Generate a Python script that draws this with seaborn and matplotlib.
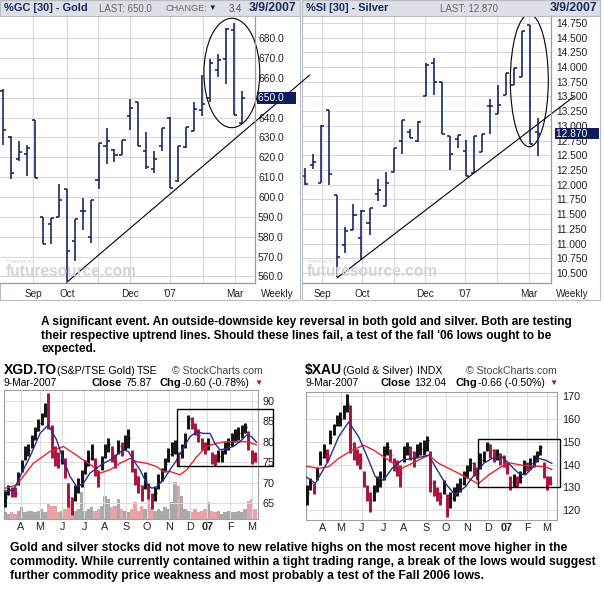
import numpy as np
import matplotlib
matplotlib.use("Agg")
import matplotlib.pyplot as plt
import seaborn as sns
from matplotlib.patches import Ellipse, Rectangle
from matplotlib.ticker import FuncFormatter
from matplotlib.transforms import blended_transform_factory

sns.set_style("white")
plt.rcParams['font.family'] = ['Liberation Sans', 'DejaVu Sans']

W, H = 604, 599

# ---------------- weekly futures (top) ----------------
gold_open = [653.5, 630.0, 619.3, 621.6, 638.7, 590.0, 586.4, 590.0, 604.0, 578.0, 593.0, 580.0, 608.7, 625.5, 623.8, 621.3,
             641.0, 648.0, 623.3, 614.2, 625.5, 640.0, 607.9, 625.0, 633.4, 643.9, 649.8, 664.0, 669.6, 684.2, 637.2]
gold_high = [654.5, 631.0, 628.0, 626.0, 638.7, 590.2, 589.4, 606.5, 604.2, 589.0, 599.5, 598.6, 627.0, 635.0, 624.0, 628.8,
             649.3, 648.0, 632.7, 623.0, 635.0, 640.2, 625.5, 635.5, 647.8, 661.5, 669.6, 672.0, 685.0, 687.6, 653.2]
gold_low = [626.3, 609.2, 618.3, 610.4, 609.5, 576.3, 576.3, 590.0, 557.5, 568.0, 583.5, 576.8, 604.0, 616.6, 617.6, 621.3,
            634.0, 625.5, 614.2, 612.0, 623.0, 604.8, 607.5, 624.6, 633.4, 640.6, 647.8, 660.7, 656.8, 641.4, 636.7]
gold_close = [633.9, 612.0, 622.6, 624.6, 609.5, 576.5, 589.4, 598.6, 573.0, 589.0, 593.0, 598.6, 627.0, 628.3, 621.3, 628.8,
              645.0, 625.5, 614.9, 619.3, 635.0, 604.8, 625.5, 635.5, 644.4, 646.8, 667.4, 669.1, 684.7, 641.4, 650.0]
gold_months = [3.8, 8.05, 11.9, 15.9, 20.9, 25.1, 29.1]
gold_trend_x = [8.0, 38.46]
gold_trend_y = [557.0, 661.5]

silver_open = [12.14, 12.34, 12.03, 13.27, 11.83, 10.98, 11.23, 11.09, 11.35, 11.84, 11.63, 12.22, 12.74, 12.90, 12.74,
               13.51, 14.06, 13.75, 12.83, 12.78, 12.57, 12.20, 12.56, 13.34, 13.21, 13.53, 13.70, 13.83, 14.71, 12.89]
silver_high = [12.29, 12.53, 13.01, 13.27, 11.83, 11.28, 11.67, 11.57, 11.61, 12.10, 12.21, 12.62, 13.10, 12.95, 13.08,
               14.06, 14.16, 13.75, 12.83, 12.85, 12.76, 12.83, 12.87, 13.46, 13.69, 13.89, 13.99, 14.62, 14.72, 13.14]
silver_low = [12.00, 12.27, 12.03, 12.00, 10.44, 10.84, 11.23, 10.72, 11.15, 11.72, 11.63, 12.21, 12.52, 12.79, 12.73,
              13.50, 13.52, 12.86, 12.25, 12.62, 12.14, 12.20, 12.56, 12.87, 13.21, 13.53, 13.70, 13.83, 12.69, 12.48]
silver_close = [12.02, 12.39, 13.00, 12.18, 10.78, 11.22, 11.48, 11.56, 11.61, 11.91, 12.03, 12.62, 13.10, 12.80, 13.06,
                14.04, 13.75, 12.86, 12.52, 12.84, 12.14, 12.83, 12.87, 13.34, 13.35, 13.89, 13.98, 14.61, 12.69, 12.87]
silver_months = [2.08, 7.06, 11.0, 14.9, 19.9, 23.9, 27.8]
silver_trend_x = [3.95, 33.42]
silver_trend_y = [10.415, 13.495]
week_labels = ['Sep', 'Oct', '', 'Dec', "'07", '', 'Mar']

# ---------------- daily stocks (bottom) ----------------
xgd_close = [66.5, 68.5, 68.0, 67.5, 71.5, 74.5, 77.5, 78.0, 80.5, 82.5,
             84.5, 86.0, 88.0, 85.0, 79.0, 76.5, 75.5, 76.5, 73.5, 66.5,
             64.5, 68.0, 69.5, 71.0, 74.0, 76.0, 77.5, 73.5, 71.0, 75.0,
             78.0, 79.5, 77.0, 75.0, 79.0, 78.5, 80.0, 81.0, 75.0, 71.5,
             69.5, 67.5, 70.5, 68.0, 65.5, 67.5, 70.5, 72.0, 74.5, 77.0,
             78.5, 79.0, 76.0, 78.0, 80.5, 85.5, 84.5, 83.0, 81.5, 79.5,
             78.5, 79.5, 76.0, 75.5, 76.5, 76.5, 78.5, 79.5, 80.5, 81.5,
             82.0, 82.5, 83.5, 80.0, 76.0, 75.9]
xgd_low = [64.0, 67.0, 66.5, 66.5, 69.5, 72.5, 75.5, 76.5, 78.5, 80.5,
           82.5, 84.0, 86.0, 83.0, 76.0, 74.0, 73.5, 74.5, 71.0, 64.0,
           62.0, 65.5, 67.5, 69.0, 72.0, 74.0, 75.5, 71.5, 69.0, 73.0,
           76.0, 77.5, 75.0, 73.5, 77.0, 76.5, 78.0, 78.5, 72.5, 69.5,
           67.5, 65.5, 68.5, 66.0, 63.5, 65.5, 68.5, 70.5, 72.5, 75.0,
           76.5, 77.0, 74.0, 76.0, 78.5, 83.0, 83.0, 81.5, 80.0, 78.0,
           77.0, 78.0, 74.5, 74.0, 75.0, 75.0, 77.0, 78.0, 79.0, 80.0,
           80.5, 81.0, 82.0, 78.0, 74.5, 75.0]
xgd_high = [68.0, 69.5, 69.0, 69.0, 72.5, 75.5, 79.0, 79.5, 81.5, 83.5,
            85.5, 87.0, 89.5, 91.8, 84.0, 79.0, 77.5, 78.0, 76.0, 70.0,
            66.5, 69.5, 71.0, 73.0, 75.5, 78.0, 79.5, 76.0, 73.0, 76.5,
            79.5, 81.0, 79.0, 77.0, 80.5, 80.0, 81.5, 83.0, 78.0, 73.5,
            71.5, 69.5, 72.5, 70.0, 67.5, 69.0, 72.0, 73.5, 76.0, 78.5,
            80.0, 80.5, 77.5, 79.5, 82.0, 86.5, 86.0, 84.5, 83.0, 81.0,
            80.0, 81.0, 77.5, 77.0, 78.0, 78.0, 80.0, 81.0, 82.0, 83.0,
            83.5, 84.0, 84.5, 82.5, 78.0, 77.5]
xgd_volume = [2.0, 1.5, 2.0, 1.5, 2.5, 3.5, 2.0, 2.5, 2.5, 2.0,
              2.5, 3.0, 2.0, 4.5, 4.0, 4.0, 2.0, 2.5, 3.0, 3.5,
              5.5, 2.5, 3.0, 8.0, 2.5, 3.0, 3.5, 2.5, 3.0, 4.0,
              7.0, 6.0, 3.5, 4.0, 6.0, 3.0, 2.5, 2.0, 3.0, 5.0,
              2.5, 4.0, 3.0, 6.0, 3.5, 2.5, 3.0, 2.5, 3.5, 3.0,
              5.0, 11.0, 10.0, 7.0, 3.0, 2.5, 2.0, 3.0, 2.0, 2.5,
              3.0, 5.0, 2.5, 2.0, 2.5, 1.5, 2.0, 2.5, 2.0, 2.0,
              2.5, 2.0, 3.0, 5.5, 6.0, 3.0]
xgd_fast_x = [0, 2.5, 4.5, 7.5, 10.5, 13, 15.5, 17.5, 19.5, 21.5, 23.5, 25.5, 27.5, 29.5, 31.5, 33.5, 35.5, 37, 38.5,
              40.5, 42.5, 44, 45.5, 47.5, 49.5, 51.5, 53.5, 55.5, 57.5, 59.5, 61.5, 63, 64.5, 66.5, 68.5, 70.5, 72.5, 74, 75.5]
xgd_fast_y = [68.0, 68.0, 71.5, 76.3, 82.0, 84.1, 80.4, 75.5, 71.5, 69.0, 69.8, 72.3, 73.5, 74.7, 75.5, 76.7, 78.0, 77.6, 75.5,
              73.1, 69.8, 68.6, 69.0, 70.6, 73.1, 75.5, 78.4, 81.2, 82.4, 82.0, 82.0, 79.5, 78.0, 78.3, 78.8, 80.0, 81.6, 81.2, 79.8]
xgd_slow_x = [0, 3.5, 8.5, 13.5, 17.5, 20.5, 23.5, 26.5, 28.5, 31.5, 34.5, 37.5, 39.5, 42.5, 45.5, 47.5, 49.5, 52.5,
              54.5, 57.5, 60.5, 63.5, 66.5, 69.5, 72.5, 75.5]
xgd_slow_y = [68.6, 69.4, 74.7, 77.6, 78.8, 77.2, 75.5, 73.9, 72.3, 73.1, 74.7, 75.9, 75.1, 74.7, 73.9, 72.7, 72.7, 71.9,
              73.1, 76.3, 78.8, 79.6, 80.0, 80.0, 80.0, 79.2]
xgd_months = [4.8, 10.5, 17.2, 23.8, 29.8, 36.3, 42.6, 49.1, 55.5, 60.7, 67.5, 74.0]

xau_close = [127.3, 131.7, 129.5, 136.1, 143.4, 146.3, 144.1, 152.2, 155.8, 159.5,
             160.2, 163.1, 166.8, 149.2, 146.3, 143.4, 141.9, 133.2, 127.3, 124.4,
             127.3, 131.7, 133.2, 146.3, 147.8, 144.1, 140.5, 139.0, 136.1, 144.9,
             147.8, 145.6, 142.7, 146.3, 147.0, 147.8, 150.7, 131.7, 129.5, 127.3,
             125.8, 130.2, 123.7, 125.1, 127.3, 128.8, 131.7, 134.6, 137.5, 140.5,
             138.3, 136.1, 141.9, 143.4, 149.2, 146.3, 144.1, 144.9, 142.7, 141.9,
             139.0, 132.4, 133.2, 132.4, 134.6, 139.7, 139.0, 140.5, 141.9, 144.1,
             147.8, 138.3, 132.4, 132.0]
xau_low = [122, 129, 127, 133, 140, 143, 141, 149, 153, 157,
           157, 160, 163, 145, 142, 140, 138, 130, 124, 119,
           124, 128, 130, 133, 144, 141, 137, 135, 130, 141,
           144, 142, 139, 143, 144, 144, 146, 128, 126, 124,
           122, 127, 117, 121, 124, 126, 128, 131, 134, 137,
           135, 133, 138, 141, 146, 143, 141, 142, 140, 139,
           136, 129, 130, 130, 132, 136, 137, 138, 139, 141,
           144, 134, 129, 131]
xau_high = [131, 134, 132, 139, 146, 149, 147, 155, 158, 162,
            163, 166, 171, 166, 150, 147, 145, 137, 131, 128,
            131, 135, 137, 148, 150, 147, 143, 142, 140, 148,
            150, 148, 146, 149, 150, 151, 152.5, 146, 133, 130,
            128, 133, 127, 128, 130, 132, 134, 137, 140, 143,
            141, 139, 145, 146, 150, 149, 147, 147, 145, 144,
            141, 135, 136, 135, 137, 142, 141, 143, 144, 146,
            148.5, 141, 135, 135]
xau_fast_x = [-0.3, 2.5, 6.5, 9.5, 12.5, 15.5, 18.5, 20.5, 23, 25.5, 28.5, 31.5, 34.5, 36.5, 38.5, 41.5, 44.5, 47.5,
              50.5, 53, 55.5, 58.5, 60.5, 63.5, 65.5, 67.5, 69.5, 71.5, 73.5]
xau_fast_y = [134.6, 131.7, 141.9, 152.2, 158.7, 152.2, 141.9, 134.6, 133.2, 138.3, 141.9, 142.7, 143.4, 144.1, 139.0,
              131.7, 126.6, 130.2, 136.1, 140.5, 142.7, 143.4, 140.5, 136.1, 135.4, 138.3, 142.7, 141.9, 140.5]
xau_slow_x = [-0.3, 3.5, 6.5, 9.5, 13.5, 17, 20, 23, 26, 28.5, 31.5, 34.5, 36.5, 39.5, 42.5, 45.5, 48.5, 51.3, 54.5,
              57.5, 60.5, 64.5, 68.5, 71.5, 73.5]
xau_slow_y = [139.3, 138.3, 139.0, 142.7, 146.3, 148.5, 146.3, 143.4, 140.5, 138.3, 140.5, 142.7, 144.1, 140.5, 138.3,
              136.1, 133.9, 131.4, 135.4, 138.3, 140.8, 139.7, 139.3, 139.0, 137.8]
xau_months = [4.7, 10.2, 16.5, 23.0, 29.0, 35.7, 41.7, 48.0, 54.3, 60.0, 66.0, 72.0]
day_labels = ['A', 'M', 'J', 'J', 'A', 'S', 'O', 'N', 'D', '07', 'F', 'M']

NAVY = '#1b2762'
GRID = '#d8d8d8'

fig = plt.figure(figsize=(W / 100, H / 100), dpi=100)


def rect(x0, y0, x1, y1):
    return [x0 / W, 1 - y1 / H, (x1 - x0) / W, (y1 - y0) / H]


def ftext(x, y, s, **kw):
    kw.setdefault('va', 'center')
    fig.text(x / W, 1 - y / H, s, **kw)


def fbox(x0, y0, x1, y1, **kw):
    fig.patches.append(Rectangle((x0 / W, 1 - y1 / H), (x1 - x0) / W, (y1 - y0) / H,
                                 transform=fig.transFigure, **kw))


def weekly_chart(ax, o, h, l, c, months, ylim, xlim, yticks, fmt, pad, hide=None):
    idx = np.arange(len(c))
    ax.vlines(idx, l, h, color=NAVY, lw=1.2)
    ax.hlines(o, idx - 0.38, idx, color=NAVY, lw=1.2)
    ax.hlines(c, idx, idx + 0.38, color=NAVY, lw=1.2)
    ax.set_xlim(*xlim)
    ax.set_ylim(*ylim)
    ax.yaxis.tick_right()
    ax.set_yticks(yticks)
    ax.yaxis.set_major_formatter(FuncFormatter(
        lambda v, p: '' if hide is not None and abs(v - hide) < 1e-6 else fmt % v))
    ax.set_xticks(months)
    ax.set_xticklabels(week_labels)
    ax.tick_params(axis='y', length=0, pad=pad, labelsize=7.4, labelcolor='#222222')
    ax.tick_params(axis='x', length=0, pad=4.5, labelsize=7.2, labelcolor='#222222')
    ax.grid(True, color=GRID, lw=0.8)
    ax.set_axisbelow(True)
    for s in ['left', 'top']:
        ax.spines[s].set_visible(False)
    for s in ['right', 'bottom']:
        ax.spines[s].set_color('#9a9a9a')
        ax.spines[s].set_linewidth(0.9)


# ---------- gold ----------
ax_g = fig.add_axes(rect(0, 17, 255, 283))
weekly_chart(ax_g, gold_open, gold_high, gold_low, gold_close, gold_months,
             (556.7, 690.7), (-0.34, 31.6), np.arange(560, 681, 10), '%.1f', 2.2, hide=650.0)
ax_g.plot(gold_trend_x, gold_trend_y, color='black', lw=0.8, clip_on=False)
ax_g.add_patch(Ellipse((28.7, 662.5), 7.0, 55.1, fill=False, ec='black', lw=0.8, clip_on=False))
tr = blended_transform_factory(ax_g.transAxes, ax_g.transData)
ax_g.text(1 + 3 / 255, gold_close[-1], '650.0    ', transform=tr, ha='left', va='center', fontsize=7.4,
          color='white', bbox=dict(boxstyle='square,pad=0.12', fc='#0f1a5a', ec='none'))
ax_g.set_zorder(3)

# ---------- silver ----------
ax_s = fig.add_axes(rect(302, 17, 551, 283))
weekly_chart(ax_s, silver_open, silver_high, silver_low, silver_close, silver_months,
             (10.33, 14.85), (-0.41, 30.6), np.arange(10.5, 14.76, 0.25), '%.3f', 3.6)
ax_s.plot(silver_trend_x, silver_trend_y, color='black', lw=0.8, clip_on=False)
ax_s.add_patch(Ellipse((27.9, 13.77), 4.73, 2.25, fill=False, ec='black', lw=0.8, clip_on=False))
tr = blended_transform_factory(ax_s.transAxes, ax_s.transData)
ax_s.text(1 + 5 / 249, silver_close[-1], '12.870    ', transform=tr, ha='left', va='center', fontsize=7.4,
          color='white', bbox=dict(boxstyle='square,pad=0.05', fc='#0f1a5a', ec='none'))

# panel frames and title bars
for x0, x1 in [(0, 300), (302, 600)]:
    fbox(x0, 0, x1, 16, fc='#dde0e6', ec='#b8bcc4', lw=0.8)
    fbox(x0, 0, x1, 300, fill=False, ec='#b8bcc4', lw=0.8)

ftext(4, 8, '%GC [30] - Gold', fontsize=7.9, fontweight='bold', color=NAVY)
ftext(99, 8.5, 'LAST: 650.0', fontsize=7.0, color='#666666')
ftext(166, 8.5, 'CHANGE:', fontsize=6.6, color='#666666')
ftext(208.5, 8.5, '\u25bc', fontsize=5.6, color=NAVY)
ftext(229, 8.5, '3.4', fontsize=7.0, color='#555555')
ftext(296, 8, '3/9/2007', fontsize=8.8, fontweight='bold', color=NAVY, ha='right')
ftext(306, 8, '%SI [30] - Silver', fontsize=7.9, fontweight='bold', color=NAVY)
ftext(440, 8.5, 'LAST: 12.870', fontsize=7.0, color='#666666')
ftext(597, 8, '3/9/2007', fontsize=8.8, fontweight='bold', color=NAVY, ha='right')
ftext(277, 294, 'Weekly', fontsize=7.2, color='#222222', ha='center')
ftext(572, 294, 'Weekly', fontsize=7.2, color='#222222', ha='center')
for x0 in [6, 307]:
    ftext(x0 + 1, 262, 'Powered by', fontsize=3.5, color='#d0d0d0')
    ftext(x0, 272, 'futuresource.com', fontsize=11.2, fontweight='bold', color='#d4d4d4')

# ---------- middle commentary ----------
para1 = ["A significant event. An outside-downside key reversal in both gold and silver. Both are testing",
         "their respective uptrend lines. Should these lines fail, a test of the fall '06 lows ought to be",
         "expected."]
for k, line in enumerate(para1):
    ftext(41, 321.7 + 13.8 * k, line, fontsize=8.6, fontweight='bold', color='black')


def daily_chart(ax, close, low, high, fx, fy, sx, sy, months, xlim, ylim, yticks, pad):
    idx = np.arange(len(close))
    prev = [close[0]] + list(close[:-1])
    cols = ['#111111' if c >= p else '#a8123c' for c, p in zip(close, prev)]
    ax.vlines(idx, low, high, colors=cols, lw=2.1, zorder=3)
    ax.hlines(close, idx, idx + 0.5, colors=cols, lw=1.0, zorder=3)
    sns.lineplot(x=sx, y=sy, ax=ax, color='#e3262b', lw=1.0, zorder=4)
    sns.lineplot(x=fx, y=fy, ax=ax, color='#2a2f8c', lw=1.0, zorder=5)
    ax.set_xlim(*xlim)
    ax.set_ylim(*ylim)
    ax.yaxis.tick_right()
    ax.set_yticks(yticks)
    ax.set_xticks(months)
    ax.set_xticklabels(day_labels)
    ax.get_xticklabels()[9].set_fontweight('bold')
    ax.tick_params(axis='y', length=0, pad=pad, labelsize=7.8, labelcolor='#222222')
    ax.tick_params(axis='x', length=0, pad=2.5, labelsize=7.8, labelcolor='#222222')
    ax.grid(True, color='#dcdcdc', lw=0.7)
    ax.set_axisbelow(True)
    for s in ax.spines.values():
        s.set_color('#a0a0a0')
        s.set_linewidth(0.8)
    ax.set_xlabel('')
    ax.set_ylabel('')


# ---------- XGD.TO ----------
ax_x = fig.add_axes(rect(4, 390, 258, 519))
ax_v = ax_x.twinx()
vidx = np.arange(len(xgd_volume))
vprev = [xgd_close[0]] + xgd_close[:-1]
vcols = ['#a9a9a9' if c >= p else '#e8a4a4' for c, p in zip(xgd_close, vprev)]
ax_v.bar(vidx, xgd_volume, width=0.95, color=vcols, lw=0)
ax_v.set_ylim(0, 38.7)
ax_v.set_yticks([])
for s in ax_v.spines.values():
    s.set_visible(False)
ax_v.set_zorder(1)
ax_x.set_zorder(2)
ax_x.patch.set_visible(False)
daily_chart(ax_x, xgd_close, xgd_low, xgd_high, xgd_fast_x, xgd_fast_y, xgd_slow_x, xgd_slow_y,
            xgd_months, (-0.3, 75.9), (61.1, 92.6), [65, 70, 75, 80, 85, 90], 3.0)
ax_x.add_patch(Rectangle((51.7, 74.0), 28.8, 13.9, fill=False, ec='black', lw=1.0, clip_on=False, zorder=6))

ftext(4, 370, 'XGD.TO', fontsize=10, fontweight='bold', color='black')
ftext(57, 370.5, '(S&P/TSE Gold)', fontsize=7.7, color='black')
ftext(137, 370.5, 'TSE', fontsize=7.7, color='black')
ftext(172, 370.5, '\u00a9 StockCharts.com', fontsize=7.6, color='#444444')
ftext(3, 383, '9-Mar-2007', fontsize=7.4, color='black')
ftext(92, 383, 'Close', fontsize=8, fontweight='bold', color='black')
ftext(125, 383, '75.87', fontsize=7.6, color='black')
ftext(159, 383, 'Chg', fontsize=8, fontweight='bold', color='black')
ftext(182, 383, '-0.60 (-0.78%)', fontsize=7.6, color='black')
ftext(254, 383, '\u25bc', fontsize=6, color='#a8123c')

# ---------- $XAU ----------
ax_a = fig.add_axes(rect(306, 392, 557, 520))
daily_chart(ax_a, xau_close, xau_low, xau_high, xau_fast_x, xau_fast_y, xau_slow_x, xau_slow_y,
            xau_months, (-0.3, 75.0), (115.6, 171.9), [120, 130, 140, 150, 160, 170], 3.6)
ax_a.add_patch(Rectangle((51.3, 130.0), 24.7, 21.4, fill=False, ec='black', lw=1.0, clip_on=False, zorder=6))

ftext(305, 370, '$XAU', fontsize=10, fontweight='bold', color='black')
ftext(343, 370.5, '(Gold & Silver)', fontsize=7.7, color='black')
ftext(417, 370.5, 'INDX', fontsize=7.7, color='black')
ftext(466, 370.5, '\u00a9 StockCharts.com', fontsize=7.6, color='#444444')
ftext(305, 383, '9-Mar-2007', fontsize=7.4, color='black')
ftext(381, 383, 'Close', fontsize=8, fontweight='bold', color='black')
ftext(414, 383, '132.04', fontsize=7.6, color='black')
ftext(455, 383, 'Chg', fontsize=8, fontweight='bold', color='black')
ftext(478, 383, '-0.66 (-0.50%)', fontsize=7.6, color='black')
ftext(549, 383, '\u25bc', fontsize=6, color='#a8123c')

# ---------- bottom commentary ----------
para2 = ["Gold and silver stocks did not move to new relative highs on the most recent move higher in the",
         "commodity. While currently contained within a tight trading range, a break of the lows would suggest",
         "further commodity price weakness and most probably a test of the Fall 2006 lows."]
for k, line in enumerate(para2):
    ftext(10, 548.3 + 13.9 * k, line, fontsize=8.7, fontweight='bold', color='black')

fig.savefig('out.png', dpi=100)
